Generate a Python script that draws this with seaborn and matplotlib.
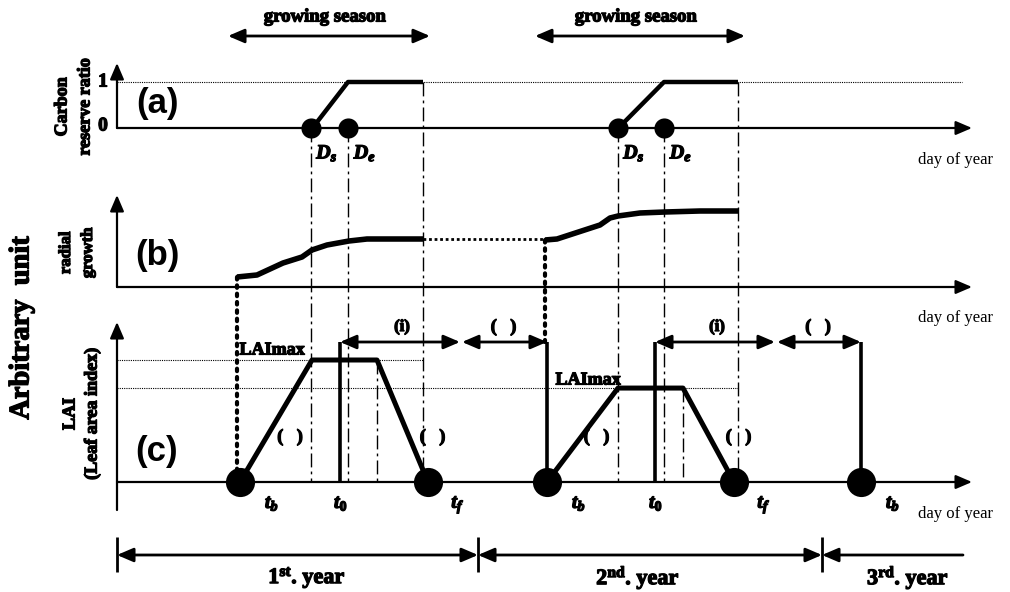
import numpy as np
import pandas as pd
import matplotlib
matplotlib.use("Agg")
import matplotlib.pyplot as plt
import matplotlib.patheffects as pe
import seaborn as sns

# ---- schematic time axis (horizontal units) ----
year_start = [117, 478, 822]             # year boundaries
year_labels = [r"1$^{\mathrm{st}}$. year", r"2$^{\mathrm{nd}}$. year", r"3$^{\mathrm{rd}}$. year"]
season_start = [228, 535]                # growing season arrows
season_end_arrow = [430, 745]
ds_day = [311, 618]                      # carbon reserve ratio start
de_day = [348, 664]                      # carbon reserve ratio end
season_end = [423, 738]                  # end of carbon / growth curves
tb_day = [240, 547, 861]                 # bud-burst
lai_max_start = [312, 618]
lai_max_end = [377, 683]
tf_day = [428, 734]                      # leaf fall
t0_day = [340, 655]
gap_end = [460, 775]                     # end of interval (i)

# ---- values ----
carbon_ratio = [0, 1]
lai_max = [1.0, 0.77]
growth1_x = [237, 257, 283, 302, 312, 327, 349, 367, 423]
growth1_y = [10, 12, 24, 30, 37, 42, 46, 48, 48]
growth2_x = [545, 557, 600, 610, 618, 640, 665, 700, 738]
growth2_y = [47, 48, 62, 69, 71, 74, 75, 76, 76]

# ---- panel geometry (vertical, figure units) ----
base_a, scale_a = 128, 46
base_b = 287
base_c, scale_c = 482, 122
arrow_row = 342


def ya(v):
    return base_a - scale_a * np.asarray(v, dtype=float)


def yb(v):
    return base_b - np.asarray(v, dtype=float)


def yc(v):
    return base_c - scale_c * np.asarray(v, dtype=float)


sns.set_theme(style="white")
plt.rcParams["font.family"] = ["Liberation Serif", "DejaVu Serif"]
plt.rcParams["mathtext.fontset"] = "custom"
plt.rcParams["mathtext.rm"] = "Liberation Serif:bold"
plt.rcParams["mathtext.bf"] = "Liberation Serif:bold"
plt.rcParams["mathtext.it"] = "Liberation Serif:italic:bold"

fig = plt.figure(figsize=(10.1, 5.92), dpi=100)
ax = fig.add_axes([0, 0, 1, 1])
ax.set_xlim(0, 1010)
ax.set_ylim(592, 0)
ax.axis("off")

K = "black"
DASHDOT = (0, (10, 3, 2, 3))
HEAVY = [pe.withStroke(linewidth=0.9, foreground=K)]


def line(x, y, lw=3.2, ls="-", z=3):
    df = pd.DataFrame({"x": x, "y": y})
    sns.lineplot(data=df, x="x", y="y", ax=ax, color=K, lw=lw, linestyle=ls,
                 sort=False, estimator=None, zorder=z, solid_capstyle="butt")


def arrow(x0, y0, x1, y1, style="-|>", lw=1.6, ms=14):
    ax.annotate("", xy=(x1, y1), xytext=(x0, y0),
                arrowprops=dict(arrowstyle=style + ",head_length=0.7,head_width=0.3",
                                color=K, lw=lw, shrinkA=0, shrinkB=0,
                                mutation_scale=ms), zorder=4)


def txt(x, y, s, size=12, weight="bold", family=None, rot=0, heavy=True, **kw):
    t = ax.text(x, y, s, fontsize=size, fontweight=weight, rotation=rot,
                ha="center", va="center", color=K,
                family=family or ["Liberation Serif", "DejaVu Serif"], **kw)
    if heavy:
        t.set_path_effects(HEAVY)


# ---- axes of the three panels ----
for base, top, bottom in [(base_a, 63, base_a), (base_b, 195, base_b), (base_c, 322, 510)]:
    arrow(117, bottom, 117, top)
    arrow(117, base, 972, base)

# thin dotted reference levels
line([117, 962], ya([1, 1]), lw=0.8, ls=(0, (1, 1)), z=1)
line([117, season_end[0]], yc([lai_max[0]] * 2), lw=0.8, ls=(0, (1, 1)), z=1)
line([117, season_end[1]], yc([lai_max[1]] * 2), lw=0.8, ls=(0, (1, 1)), z=1)

# dash-dot event guides
for i in range(2):
    for x, ytop in [(ds_day[i], base_a), (de_day[i], base_a), (season_end[i], ya(1))]:
        line([x, x], [ytop, base_c], lw=1.0, ls=DASHDOT, z=1)
    line([lai_max_end[i]] * 2, [yc(lai_max[i]), base_c], lw=1.0, ls=DASHDOT, z=1)

# ---- (a) carbon reserve ratio ----
for i in range(2):
    line([ds_day[i] + 5, de_day[i], season_end[i]], ya([0.1, 1, 1]), lw=3.2)
    df = pd.DataFrame({"x": [ds_day[i], de_day[i]], "y": ya(carbon_ratio[:1] * 2)})
    sns.scatterplot(data=df, x="x", y="y", ax=ax, color=K, s=210, linewidth=0, zorder=5)
    txt(ds_day[i] + 16, 153, r"$D_s$", size=14.5)
    txt(de_day[i] + 17, 153, r"$D_e$", size=14.5)

txt(103, ya(1), "1", size=14)
txt(103, ya(0) - 2, "0", size=14)

# ---- (b) radial growth ----
line(growth1_x, yb(growth1_y), lw=4)
line(growth2_x, yb(growth2_y), lw=4)
line([season_end[0], growth2_x[0]], yb([growth1_y[-1]] * 2), lw=2, ls=(0, (1, 1)), z=2)
line([growth1_x[0]] * 2, [yb(growth1_y[0]), base_c], lw=3, ls=(0, (0.6, 1.4)), z=2)
ax.lines[-1].set_dash_capstyle("round")
line([growth2_x[0]] * 2, [yb(growth2_y[0]), arrow_row], lw=3, ls=(0, (0.6, 1.4)), z=2)
ax.lines[-1].set_dash_capstyle("round")

# ---- (c) LAI ----
for i in range(2):
    line([tb_day[i], lai_max_start[i], lai_max_end[i], tf_day[i]],
         yc([0, lai_max[i], lai_max[i], 0]), lw=3.6)
    line([t0_day[i]] * 2, [base_c, arrow_row], lw=2.6)
    arrow(t0_day[i], arrow_row, gap_end[i], arrow_row, style="<|-|>", lw=2)
    nxt = tb_day[i + 1]
    arrow(gap_end[i] + 2, arrow_row, nxt, arrow_row, style="<|-|>", lw=2)
    line([nxt, nxt], [arrow_row, base_c], lw=2.6)
    txt((t0_day[i] + gap_end[i]) / 2 + 2, 327, "(i)", size=12)
    txt((gap_end[i] + nxt) / 2, 327, "(   )", size=13)
    txt((tb_day[i] + lai_max_start[i]) / 2 + 14, 437, "(   )", size=13)
    txt((lai_max_end[i] + tf_day[i]) / 2 + 30, 437, "(   )", size=13)
    txt(t0_day[i] + 1, 503, r"$t_{\mathit{0}}$", size=14.5)
    txt(tf_day[i] + 30, 505, r"$t_f$", size=14.5)

df_tb = pd.DataFrame({"x": tb_day + tf_day, "y": [base_c] * 5})
sns.scatterplot(data=df_tb, x="x", y="y", ax=ax, color=K, s=440, linewidth=0, zorder=5)
for x in tb_day:
    txt(x + 32, 503, r"$t_b$", size=14.5)

txt(272, 350, "LAImax", size=13)
txt(588, 380, "LAImax", size=13)

# ---- growing season arrows ----
for s, e in zip(season_start, season_end_arrow):
    arrow(s, 36, e, 36, style="<|-|>", lw=2)
    txt((s + e) / 2 - 4, 17, "growing season", size=13.5)

# ---- panel letters and y labels ----
for y, s in [(103, "(a)"), (255, "(b)"), (452, "(c)")]:
    txt(157, y, s, size=25, family=["Liberation Sans", "DejaVu Sans"], heavy=False)

txt(62, 107, "Carbon", size=13, rot=90)
txt(85, 107, "reserve ratio", size=13, rot=90)
txt(66, 253, "radial", size=12, rot=90)
txt(88, 253, "growth", size=12, rot=90)
txt(70, 414, "LAI", size=13, rot=90)
txt(92, 414, "(Leaf area index)", size=13, rot=90)
txt(22, 328, "Arbitrary  unit", size=20.5, rot=90)

for y in [160, 318, 514]:
    txt(955, y, "day of year", size=12, weight="normal", heavy=False)

# ---- year bar ----
for x in year_start:
    line([x, x], [537, 572], lw=2)
arrow(year_start[0], 555, year_start[1], 555, style="<|-|>", lw=2)
arrow(year_start[1], 555, year_start[2], 555, style="<|-|>", lw=2)
arrow(963, 555, year_start[2], 555, style="-|>", lw=2)
for cx, lab in zip([307, 638, 908], year_labels):
    txt(cx, 578, lab, size=16)

fig.savefig("out.png", dpi=100)
